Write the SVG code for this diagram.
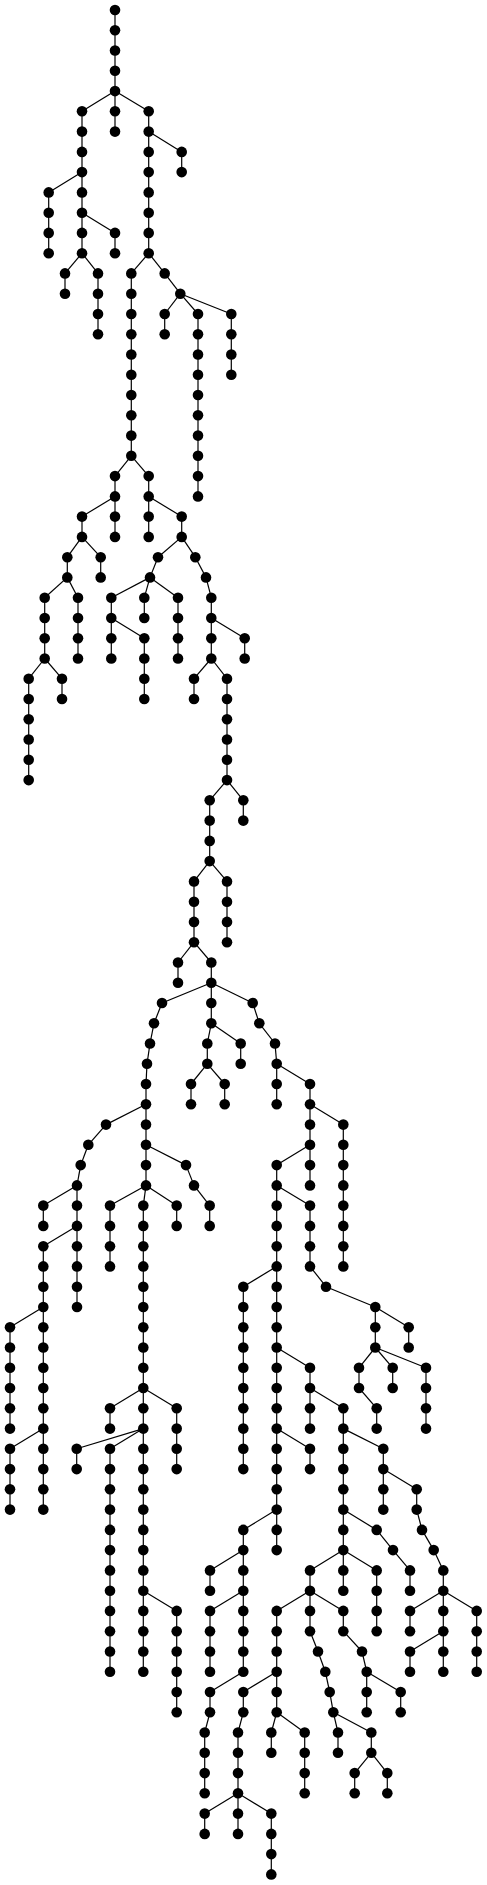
<svg xmlns="http://www.w3.org/2000/svg" width="487" height="1885" viewBox="0 0 487 1885">
<style>
.node circle{fill:#000}
#edges path{stroke:#000;stroke-width:1.2;fill:none}
</style>
<rect width="487" height="1885" fill="#fff"/>
<g id="edges">
<path d="M115 10V30.3"/><path d="M115 30.3V50.5"/><path d="M115 50.5V70.8"/><path d="M115 70.8V91.1"/>
<path d="M115 91.1L82 111.3"/><path d="M115 91.1V111.3"/><path d="M115 91.1L148.7 111.3"/>
<path d="M82 111.3V131.6"/><path d="M115 111.3V131.6"/><path d="M148.7 111.3V131.6"/>
<path d="M82 131.6V151.9"/><path d="M148.7 131.6V151.9"/><path d="M148.7 131.6L181.7 151.9"/>
<path d="M82 151.9V172.1"/><path d="M148.7 151.9V172.1"/><path d="M181.7 151.9V172.1"/>
<path d="M82 172.1L48.7 192.4"/><path d="M82 172.1V192.4"/><path d="M148.7 172.1V192.4"/>
<path d="M48.7 192.4V212.7"/><path d="M82 192.4V212.7"/><path d="M148.7 192.4V212.7"/>
<path d="M48.7 212.7V232.9"/><path d="M82 212.7V232.9"/><path d="M82 212.7L115 232.9"/><path d="M148.7 212.7V232.9"/>
<path d="M48.7 232.9V253.2"/><path d="M82 232.9V253.2"/><path d="M115 232.9V253.2"/><path d="M148.7 232.9V253.2"/>
<path d="M82 253.2L65 273.4"/><path d="M82 253.2L98 273.4"/><path d="M148.7 253.2L131.3 273.4"/><path d="M148.7 253.2L164.7 273.4"/>
<path d="M65 273.4V293.7"/><path d="M98 273.4V293.7"/><path d="M131.3 273.4V293.7"/><path d="M164.7 273.4L180.3 293.7"/>
<path d="M98 293.7V314"/><path d="M131.3 293.7V314"/><path d="M180.3 293.7L164.7 314"/><path d="M180.3 293.7L198 314"/><path d="M180.3 293.7L231.3 314"/>
<path d="M98 314V334.2"/><path d="M131.3 314V334.2"/><path d="M164.7 314V334.2"/><path d="M198 314V334.2"/><path d="M231.3 314V334.2"/>
<path d="M131.3 334.2V354.5"/><path d="M198 334.2V354.5"/><path d="M231.3 334.2V354.5"/>
<path d="M131.3 354.5V374.8"/><path d="M198 354.5V374.8"/><path d="M231.3 354.5V374.8"/>
<path d="M131.3 374.8V455.8"/><path d="M198 374.8V496.4"/>
<path d="M131.3 455.8L115 476.1"/><path d="M131.3 455.8L148.7 476.1"/>
<path d="M115 476.1V496.4"/><path d="M148.7 476.1V496.4"/>
<path d="M115 496.4L82 516.6"/><path d="M115 496.4V516.6"/><path d="M148.7 496.4V516.6"/><path d="M148.7 496.4L181.7 516.6"/>
<path d="M82 516.6V536.9"/><path d="M115 516.6V536.9"/><path d="M148.7 516.6V536.9"/><path d="M181.7 516.6V536.9"/>
<path d="M82 536.9L67.3 557.2"/><path d="M82 536.9L100.7 557.2"/><path d="M181.7 536.9L158 557.2"/><path d="M181.7 536.9L195.3 557.2"/>
<path d="M67.3 557.2V577.4"/><path d="M100.7 557.2V577.4"/><path d="M158 557.2L150 577.4"/><path d="M195.3 557.2L206 577.4"/>
<path d="M67.3 577.4L44.7 597.7"/><path d="M67.3 577.4L78 597.7"/><path d="M150 577.4L111.3 597.7"/><path d="M150 577.4L144.3 597.7"/><path d="M150 577.4L178 597.7"/><path d="M206 577.4L211.3 597.7"/>
<path d="M44.7 597.7V618"/><path d="M78 597.7V618"/><path d="M111.3 597.7V618"/><path d="M144.3 597.7V618"/><path d="M178 597.7V618"/><path d="M211.3 597.7V618"/>
<path d="M44.7 618V638.2"/><path d="M78 618V638.2"/><path d="M111.3 618V638.2"/><path d="M111.3 618L144.3 638.2"/><path d="M178 618V638.2"/><path d="M211.3 618V638.2"/><path d="M211.3 618L244.7 638.2"/>
<path d="M44.7 638.2V658.5"/><path d="M78 638.2V658.5"/><path d="M111.3 638.2V658.5"/><path d="M144.3 638.2V658.5"/><path d="M178 638.2V658.5"/><path d="M211.3 638.2V658.5"/><path d="M244.7 638.2V658.5"/>
<path d="M44.7 658.5L28.7 678.7"/><path d="M44.7 658.5L62 678.7"/><path d="M144.3 658.5V678.7"/><path d="M211.3 658.5L194 678.7"/><path d="M211.3 658.5L227 678.7"/>
<path d="M28.7 678.7V699"/><path d="M62 678.7V699"/><path d="M144.3 678.7V699"/><path d="M194 678.7V699"/><path d="M227 678.7V699"/>
<path d="M28.7 699V780.1"/><path d="M227 699V780.1"/>
<path d="M227 780.1L209.7 800.3"/><path d="M227 780.1L243.3 800.3"/>
<path d="M209.7 800.3V861.1"/><path d="M243.3 800.3V820.6"/>
<path d="M209.7 861.1L194 881.4"/><path d="M209.7 861.1L227 881.4"/>
<path d="M194 881.4V942.2"/><path d="M227 881.4V942.2"/>
<path d="M194 942.2L178 962.5"/><path d="M194 942.2L211.3 962.5"/>
<path d="M178 962.5V982.7"/><path d="M211.3 962.5V982.7"/>
<path d="M211.3 982.7L162 1003"/><path d="M211.3 982.7V1003"/><path d="M211.3 982.7L252.7 1003"/>
<path d="M162 1003L154 1023.3"/><path d="M211.3 1003V1023.3"/><path d="M252.7 1003L259.3 1023.3"/>
<path d="M154 1023.3L150 1043.5"/><path d="M211.3 1023.3L207.3 1043.5"/><path d="M211.3 1023.3L240.7 1043.5"/><path d="M259.3 1023.3L275 1043.5"/>
<path d="M150 1043.5L147 1063.8"/><path d="M207.3 1043.5V1063.8"/><path d="M240.7 1043.5V1063.8"/><path d="M275 1043.5L276.7 1063.8"/>
<path d="M147 1063.8L146 1084"/><path d="M207.3 1063.8L191 1084"/><path d="M207.3 1063.8L224.7 1084"/><path d="M276.7 1063.8V1084"/><path d="M276.7 1063.8L310 1084"/>
<path d="M146 1084V1104.3"/><path d="M191 1084V1104.3"/><path d="M224.7 1084V1104.3"/><path d="M276.7 1084V1104.3"/><path d="M310 1084V1104.3"/>
<path d="M146 1104.3L106 1124.6"/><path d="M146 1104.3V1124.6"/><path d="M310 1104.3V1124.6"/><path d="M310 1104.3L343.3 1124.6"/>
<path d="M106 1124.6L88.3 1144.8"/><path d="M146 1124.6V1144.8"/><path d="M310 1124.6V1144.8"/><path d="M343.3 1124.6V1144.8"/>
<path d="M88.3 1144.8L80.7 1165.1"/><path d="M146 1144.8V1165.1"/><path d="M146 1144.8L186 1165.1"/><path d="M310 1144.8L276.7 1165.1"/><path d="M310 1144.8V1165.1"/><path d="M343.3 1144.8V1165.1"/>
<path d="M80.7 1165.1L77 1185.4"/><path d="M146 1165.1V1185.4"/><path d="M186 1165.1L194 1185.4"/><path d="M276.7 1165.1V1185.4"/><path d="M310 1165.1V1185.4"/><path d="M343.3 1165.1V1185.4"/>
<path d="M77 1185.4L43.3 1205.6"/><path d="M77 1185.4V1205.6"/><path d="M146 1185.4L110 1205.6"/><path d="M146 1185.4L143.3 1205.6"/><path d="M146 1185.4L176.7 1205.6"/><path d="M194 1185.4L209.7 1205.6"/><path d="M276.7 1185.4V1205.6"/><path d="M276.7 1185.4L310 1205.6"/><path d="M343.3 1185.4V1205.6"/>
<path d="M43.3 1205.6V1225.9"/><path d="M77 1205.6V1225.9"/><path d="M110 1205.6V1225.9"/><path d="M143.3 1205.6V1225.9"/><path d="M176.7 1205.6V1225.9"/><path d="M209.7 1205.6V1225.9"/><path d="M276.7 1205.6V1225.9"/><path d="M310 1205.6V1225.9"/><path d="M343.3 1205.6V1225.9"/>
<path d="M77 1225.9L43.3 1246.2"/><path d="M77 1225.9V1246.2"/><path d="M110 1225.9V1246.2"/><path d="M143.3 1225.9V1246.2"/><path d="M276.7 1225.9V1246.2"/><path d="M310 1225.9V1246.2"/><path d="M343.3 1225.9V1246.2"/>
<path d="M43.3 1246.2V1266.4"/><path d="M77 1246.2V1266.4"/><path d="M110 1246.2V1266.4"/><path d="M143.3 1246.2V1266.4"/><path d="M276.7 1246.2V1266.4"/><path d="M310 1246.2V1266.4"/><path d="M343.3 1246.2V1266.4"/>
<path d="M43.3 1266.4V1286.7"/><path d="M77 1266.4V1286.7"/><path d="M143.3 1266.4V1286.7"/><path d="M276.7 1266.4L243.3 1286.7"/><path d="M276.7 1266.4V1286.7"/><path d="M310 1266.4L326 1286.7"/>
<path d="M43.3 1286.7V1307"/><path d="M77 1286.7V1307"/><path d="M143.3 1286.7V1307"/><path d="M243.3 1286.7V1307"/><path d="M276.7 1286.7V1307"/><path d="M326 1286.7L375.3 1307"/>
<path d="M43.3 1307L10 1327.2"/><path d="M43.3 1307V1327.2"/><path d="M143.3 1307V1327.2"/><path d="M243.3 1307V1327.2"/><path d="M276.7 1307V1327.2"/><path d="M375.3 1307V1327.2"/><path d="M375.3 1307L408.7 1327.2"/>
<path d="M10 1327.2V1347.5"/><path d="M43.3 1327.2V1347.5"/><path d="M143.3 1327.2V1347.5"/><path d="M243.3 1327.2V1347.5"/><path d="M276.7 1327.2V1347.5"/><path d="M375.3 1327.2V1347.5"/><path d="M408.7 1327.2V1347.5"/>
<path d="M10 1347.5V1367.8"/><path d="M43.3 1347.5V1367.8"/><path d="M143.3 1347.5V1367.8"/><path d="M243.3 1347.5V1367.8"/><path d="M276.7 1347.5V1367.8"/><path d="M276.7 1347.5L310 1367.8"/><path d="M375.3 1347.5L359 1367.8"/><path d="M375.3 1347.5L392.7 1367.8"/><path d="M375.3 1347.5L426 1367.8"/>
<path d="M10 1367.8V1388"/><path d="M43.3 1367.8V1388"/><path d="M143.3 1367.8V1388"/><path d="M243.3 1367.8V1388"/><path d="M276.7 1367.8V1388"/><path d="M310 1367.8V1388"/><path d="M359 1367.8V1388"/><path d="M392.7 1367.8V1388"/><path d="M426 1367.8V1388"/>
<path d="M10 1388V1408.3"/><path d="M43.3 1388V1408.3"/><path d="M143.3 1388L110 1408.3"/><path d="M143.3 1388V1408.3"/><path d="M143.3 1388L176.7 1408.3"/><path d="M243.3 1388V1408.3"/><path d="M276.7 1388V1408.3"/><path d="M310 1388V1408.3"/><path d="M310 1388L343.3 1408.3"/><path d="M359 1388L376.7 1408.3"/><path d="M426 1388V1408.3"/>
<path d="M10 1408.3V1428.6"/><path d="M43.3 1408.3V1428.6"/><path d="M110 1408.3V1428.6"/><path d="M143.3 1408.3V1428.6"/><path d="M176.7 1408.3V1428.6"/><path d="M243.3 1408.3V1428.6"/><path d="M276.7 1408.3V1428.6"/><path d="M310 1408.3V1428.6"/><path d="M343.3 1408.3V1428.6"/><path d="M376.7 1408.3V1428.6"/><path d="M426 1408.3V1428.6"/>
<path d="M43.3 1428.6L10 1448.8"/><path d="M43.3 1428.6V1448.8"/><path d="M143.3 1428.6L76.7 1448.8"/><path d="M143.3 1428.6L110 1448.8"/><path d="M143.3 1428.6V1448.8"/><path d="M176.7 1428.6V1448.8"/><path d="M243.3 1428.6V1448.8"/><path d="M276.7 1428.6V1448.8"/><path d="M276.7 1428.6L310 1448.8"/><path d="M343.3 1428.6V1448.8"/><path d="M343.3 1428.6L383.3 1448.8"/>
<path d="M10 1448.8V1469.1"/><path d="M43.3 1448.8V1469.1"/><path d="M76.7 1448.8V1469.1"/><path d="M110 1448.8V1469.1"/><path d="M143.3 1448.8V1469.1"/><path d="M176.7 1448.8V1469.1"/><path d="M243.3 1448.8V1469.1"/><path d="M276.7 1448.8V1469.1"/><path d="M310 1448.8V1469.1"/><path d="M343.3 1448.8V1469.1"/><path d="M383.3 1448.8V1469.1"/>
<path d="M10 1469.1V1509.6"/><path d="M43.3 1469.1V1509.6"/><path d="M110 1469.1V1509.6"/><path d="M143.3 1469.1V1509.6"/><path d="M276.7 1469.1V1509.6"/><path d="M343.3 1469.1V1509.6"/><path d="M383.3 1469.1V1509.6"/><path d="M383.3 1469.1L416.7 1489.3"/><path d="M416.7 1489.3V1509.6"/>
<path d="M110 1509.6V1529.9"/><path d="M143.3 1509.6V1529.9"/><path d="M276.7 1509.6L243.3 1529.9"/><path d="M276.7 1509.6V1529.9"/><path d="M343.3 1509.6V1529.9"/><path d="M343.3 1509.6L376.7 1529.9"/><path d="M416.7 1509.6L422 1529.9"/>
<path d="M110 1529.9V1550.1"/><path d="M143.3 1529.9V1550.1"/><path d="M243.3 1529.9V1550.1"/><path d="M276.7 1529.9V1550.1"/><path d="M343.3 1529.9V1550.1"/><path d="M376.7 1529.9L393 1550.1"/><path d="M422 1529.9L433.7 1550.1"/>
<path d="M110 1550.1V1570.4"/><path d="M143.3 1550.1V1570.4"/><path d="M243.3 1550.1L210 1570.4"/><path d="M243.3 1550.1V1570.4"/><path d="M343.3 1550.1L310 1570.4"/><path d="M343.3 1550.1V1570.4"/><path d="M343.3 1550.1L376.7 1570.4"/><path d="M393 1550.1L410 1570.4"/><path d="M433.7 1550.1L443.3 1570.4"/>
<path d="M110 1570.4V1590.7"/><path d="M143.3 1570.4V1590.7"/><path d="M210 1570.4V1590.7"/><path d="M243.3 1570.4V1590.7"/><path d="M310 1570.4V1590.7"/><path d="M343.3 1570.4V1590.7"/><path d="M376.7 1570.4V1590.7"/><path d="M410 1570.4V1590.7"/><path d="M443.3 1570.4V1590.7"/>
<path d="M110 1590.7V1610.9"/><path d="M143.3 1590.7V1610.9"/><path d="M143.3 1590.7L176.7 1610.9"/><path d="M243.3 1590.7L210 1610.9"/><path d="M243.3 1590.7V1610.9"/><path d="M310 1590.7L276.7 1610.9"/><path d="M310 1590.7V1610.9"/><path d="M310 1590.7L343.3 1610.9"/><path d="M376.7 1590.7V1610.9"/><path d="M443.3 1590.7L410 1610.9"/><path d="M443.3 1590.7V1610.9"/><path d="M443.3 1590.7L476.7 1610.9"/>
<path d="M110 1610.9V1631.2"/><path d="M143.3 1610.9V1631.2"/><path d="M176.7 1610.9V1631.2"/><path d="M210 1610.9V1631.2"/><path d="M243.3 1610.9V1631.2"/><path d="M276.7 1610.9V1631.2"/><path d="M310 1610.9V1631.2"/><path d="M343.3 1610.9V1631.2"/><path d="M376.7 1610.9V1631.2"/><path d="M410 1610.9V1631.2"/><path d="M443.3 1610.9V1631.2"/><path d="M476.7 1610.9V1631.2"/>
<path d="M110 1631.2V1671.7"/><path d="M143.3 1631.2V1671.7"/><path d="M176.7 1631.2V1712.3"/><path d="M210 1631.2V1671.7"/><path d="M243.3 1631.2V1671.7"/><path d="M276.7 1631.2V1671.7"/><path d="M310 1631.2L318 1651.5"/><path d="M343.3 1631.2L362 1651.5"/><path d="M443.3 1631.2L410 1651.5"/><path d="M443.3 1631.2V1671.7"/><path d="M476.7 1631.2V1671.7"/><path d="M410 1651.5V1671.7"/>
<path d="M318 1651.5L325.3 1671.7"/><path d="M362 1651.5L366.7 1671.7"/>
<path d="M243.3 1671.7L210 1692"/><path d="M276.7 1671.7L243.3 1692"/><path d="M276.7 1671.7V1692"/><path d="M325.3 1671.7L329.7 1692"/><path d="M366.7 1671.7V1692"/><path d="M366.7 1671.7L400.7 1692"/>
<path d="M210 1692V1712.3"/><path d="M243.3 1692V1712.3"/><path d="M276.7 1692V1712.3"/><path d="M329.7 1692L333.3 1712.3"/><path d="M366.7 1692V1712.3"/><path d="M400.7 1692V1712.3"/>
<path d="M210 1712.3L204.7 1732.5"/><path d="M243.3 1712.3L238 1732.5"/><path d="M276.7 1712.3L271.3 1732.5"/><path d="M276.7 1712.3L304.7 1732.5"/><path d="M333.3 1712.3L338 1732.5"/><path d="M333.3 1712.3L371.3 1732.5"/>
<path d="M204.7 1732.5V1793.3"/><path d="M238 1732.5V1793.3"/><path d="M271.3 1732.5V1752.8"/><path d="M304.7 1732.5V1793.3"/><path d="M338 1732.5V1752.8"/><path d="M371.3 1732.5V1752.8"/>
<path d="M371.3 1752.8L354.7 1773.1"/><path d="M371.3 1752.8L387.3 1773.1"/><path d="M354.7 1773.1V1793.3"/><path d="M387.3 1773.1V1793.3"/>
<path d="M238 1793.3L204.7 1813.6"/><path d="M238 1793.3V1813.6"/><path d="M238 1793.3L271.3 1813.6"/>
<path d="M204.7 1813.6V1833.9"/><path d="M238 1813.6V1833.9"/><path d="M271.3 1813.6V1874.4"/>
</g>
<g class="node" id="n0-0"><circle cx="115" cy="10" r="5.3"/></g>
<g class="node" id="n1-0"><circle cx="115" cy="30.3" r="5.3"/></g>
<g class="node" id="n2-0"><circle cx="115" cy="50.5" r="5.3"/></g>
<g class="node" id="n3-0"><circle cx="115" cy="70.8" r="5.3"/></g>
<g class="node" id="n4-0"><circle cx="115" cy="91.1" r="5.3"/></g>
<g class="node" id="n5-0"><circle cx="82" cy="111.3" r="5.3"/></g>
<g class="node" id="n5-1"><circle cx="115" cy="111.3" r="5.3"/></g>
<g class="node" id="n5-2"><circle cx="148.7" cy="111.3" r="5.3"/></g>
<g class="node" id="n6-0"><circle cx="82" cy="131.6" r="5.3"/></g>
<g class="node" id="n6-1"><circle cx="115" cy="131.6" r="5.3"/></g>
<g class="node" id="n6-2"><circle cx="148.7" cy="131.6" r="5.3"/></g>
<g class="node" id="n7-0"><circle cx="82" cy="151.9" r="5.3"/></g>
<g class="node" id="n7-1"><circle cx="148.7" cy="151.9" r="5.3"/></g>
<g class="node" id="n7-2"><circle cx="181.7" cy="151.9" r="5.3"/></g>
<g class="node" id="n8-0"><circle cx="82" cy="172.1" r="5.3"/></g>
<g class="node" id="n8-1"><circle cx="148.7" cy="172.1" r="5.3"/></g>
<g class="node" id="n8-2"><circle cx="181.7" cy="172.1" r="5.3"/></g>
<g class="node" id="n9-0"><circle cx="48.7" cy="192.4" r="5.3"/></g>
<g class="node" id="n9-1"><circle cx="82" cy="192.4" r="5.3"/></g>
<g class="node" id="n9-2"><circle cx="148.7" cy="192.4" r="5.3"/></g>
<g class="node" id="n10-0"><circle cx="48.7" cy="212.7" r="5.3"/></g>
<g class="node" id="n10-1"><circle cx="82" cy="212.7" r="5.3"/></g>
<g class="node" id="n10-2"><circle cx="148.7" cy="212.7" r="5.3"/></g>
<g class="node" id="n11-0"><circle cx="48.7" cy="232.9" r="5.3"/></g>
<g class="node" id="n11-1"><circle cx="82" cy="232.9" r="5.3"/></g>
<g class="node" id="n11-2"><circle cx="115" cy="232.9" r="5.3"/></g>
<g class="node" id="n11-3"><circle cx="148.7" cy="232.9" r="5.3"/></g>
<g class="node" id="n12-0"><circle cx="48.7" cy="253.2" r="5.3"/></g>
<g class="node" id="n12-1"><circle cx="82" cy="253.2" r="5.3"/></g>
<g class="node" id="n12-2"><circle cx="115" cy="253.2" r="5.3"/></g>
<g class="node" id="n12-3"><circle cx="148.7" cy="253.2" r="5.3"/></g>
<g class="node" id="n13-0"><circle cx="65" cy="273.4" r="5.3"/></g>
<g class="node" id="n13-1"><circle cx="98" cy="273.4" r="5.3"/></g>
<g class="node" id="n13-2"><circle cx="131.3" cy="273.4" r="5.3"/></g>
<g class="node" id="n13-3"><circle cx="164.7" cy="273.4" r="5.3"/></g>
<g class="node" id="n14-0"><circle cx="65" cy="293.7" r="5.3"/></g>
<g class="node" id="n14-1"><circle cx="98" cy="293.7" r="5.3"/></g>
<g class="node" id="n14-2"><circle cx="131.3" cy="293.7" r="5.3"/></g>
<g class="node" id="n14-3"><circle cx="180.3" cy="293.7" r="5.3"/></g>
<g class="node" id="n15-0"><circle cx="98" cy="314" r="5.3"/></g>
<g class="node" id="n15-1"><circle cx="131.3" cy="314" r="5.3"/></g>
<g class="node" id="n15-2"><circle cx="164.7" cy="314" r="5.3"/></g>
<g class="node" id="n15-3"><circle cx="198" cy="314" r="5.3"/></g>
<g class="node" id="n15-4"><circle cx="231.3" cy="314" r="5.3"/></g>
<g class="node" id="n16-0"><circle cx="98" cy="334.2" r="5.3"/></g>
<g class="node" id="n16-1"><circle cx="131.3" cy="334.2" r="5.3"/></g>
<g class="node" id="n16-2"><circle cx="164.7" cy="334.2" r="5.3"/></g>
<g class="node" id="n16-3"><circle cx="198" cy="334.2" r="5.3"/></g>
<g class="node" id="n16-4"><circle cx="231.3" cy="334.2" r="5.3"/></g>
<g class="node" id="n17-0"><circle cx="131.3" cy="354.5" r="5.3"/></g>
<g class="node" id="n17-1"><circle cx="198" cy="354.5" r="5.3"/></g>
<g class="node" id="n17-2"><circle cx="231.3" cy="354.5" r="5.3"/></g>
<g class="node" id="n18-0"><circle cx="131.3" cy="374.8" r="5.3"/></g>
<g class="node" id="n18-1"><circle cx="198" cy="374.8" r="5.3"/></g>
<g class="node" id="n18-2"><circle cx="231.3" cy="374.8" r="5.3"/></g>
<g class="node" id="n19-0"><circle cx="131.3" cy="395" r="5.3"/></g>
<g class="node" id="n19-1"><circle cx="198" cy="395" r="5.3"/></g>
<g class="node" id="n20-0"><circle cx="131.3" cy="415.3" r="5.3"/></g>
<g class="node" id="n20-1"><circle cx="198" cy="415.3" r="5.3"/></g>
<g class="node" id="n21-0"><circle cx="131.3" cy="435.6" r="5.3"/></g>
<g class="node" id="n21-1"><circle cx="198" cy="435.6" r="5.3"/></g>
<g class="node" id="n22-0"><circle cx="131.3" cy="455.8" r="5.3"/></g>
<g class="node" id="n22-1"><circle cx="198" cy="455.8" r="5.3"/></g>
<g class="node" id="n23-0"><circle cx="115" cy="476.1" r="5.3"/></g>
<g class="node" id="n23-1"><circle cx="148.7" cy="476.1" r="5.3"/></g>
<g class="node" id="n23-2"><circle cx="198" cy="476.1" r="5.3"/></g>
<g class="node" id="n24-0"><circle cx="115" cy="496.4" r="5.3"/></g>
<g class="node" id="n24-1"><circle cx="148.7" cy="496.4" r="5.3"/></g>
<g class="node" id="n24-2"><circle cx="198" cy="496.4" r="5.3"/></g>
<g class="node" id="n25-0"><circle cx="82" cy="516.6" r="5.3"/></g>
<g class="node" id="n25-1"><circle cx="115" cy="516.6" r="5.3"/></g>
<g class="node" id="n25-2"><circle cx="148.7" cy="516.6" r="5.3"/></g>
<g class="node" id="n25-3"><circle cx="181.7" cy="516.6" r="5.3"/></g>
<g class="node" id="n26-0"><circle cx="82" cy="536.9" r="5.3"/></g>
<g class="node" id="n26-1"><circle cx="115" cy="536.9" r="5.3"/></g>
<g class="node" id="n26-2"><circle cx="148.7" cy="536.9" r="5.3"/></g>
<g class="node" id="n26-3"><circle cx="181.7" cy="536.9" r="5.3"/></g>
<g class="node" id="n27-0"><circle cx="67.3" cy="557.2" r="5.3"/></g>
<g class="node" id="n27-1"><circle cx="100.7" cy="557.2" r="5.3"/></g>
<g class="node" id="n27-2"><circle cx="158" cy="557.2" r="5.3"/></g>
<g class="node" id="n27-3"><circle cx="195.3" cy="557.2" r="5.3"/></g>
<g class="node" id="n28-0"><circle cx="67.3" cy="577.4" r="5.3"/></g>
<g class="node" id="n28-1"><circle cx="100.7" cy="577.4" r="5.3"/></g>
<g class="node" id="n28-2"><circle cx="150" cy="577.4" r="5.3"/></g>
<g class="node" id="n28-3"><circle cx="206" cy="577.4" r="5.3"/></g>
<g class="node" id="n29-0"><circle cx="44.7" cy="597.7" r="5.3"/></g>
<g class="node" id="n29-1"><circle cx="78" cy="597.7" r="5.3"/></g>
<g class="node" id="n29-2"><circle cx="111.3" cy="597.7" r="5.3"/></g>
<g class="node" id="n29-3"><circle cx="144.3" cy="597.7" r="5.3"/></g>
<g class="node" id="n29-4"><circle cx="178" cy="597.7" r="5.3"/></g>
<g class="node" id="n29-5"><circle cx="211.3" cy="597.7" r="5.3"/></g>
<g class="node" id="n30-0"><circle cx="44.7" cy="618" r="5.3"/></g>
<g class="node" id="n30-1"><circle cx="78" cy="618" r="5.3"/></g>
<g class="node" id="n30-2"><circle cx="111.3" cy="618" r="5.3"/></g>
<g class="node" id="n30-3"><circle cx="144.3" cy="618" r="5.3"/></g>
<g class="node" id="n30-4"><circle cx="178" cy="618" r="5.3"/></g>
<g class="node" id="n30-5"><circle cx="211.3" cy="618" r="5.3"/></g>
<g class="node" id="n31-0"><circle cx="44.7" cy="638.2" r="5.3"/></g>
<g class="node" id="n31-1"><circle cx="78" cy="638.2" r="5.3"/></g>
<g class="node" id="n31-2"><circle cx="111.3" cy="638.2" r="5.3"/></g>
<g class="node" id="n31-3"><circle cx="144.3" cy="638.2" r="5.3"/></g>
<g class="node" id="n31-4"><circle cx="178" cy="638.2" r="5.3"/></g>
<g class="node" id="n31-5"><circle cx="211.3" cy="638.2" r="5.3"/></g>
<g class="node" id="n31-6"><circle cx="244.7" cy="638.2" r="5.3"/></g>
<g class="node" id="n32-0"><circle cx="44.7" cy="658.5" r="5.3"/></g>
<g class="node" id="n32-1"><circle cx="78" cy="658.5" r="5.3"/></g>
<g class="node" id="n32-2"><circle cx="111.3" cy="658.5" r="5.3"/></g>
<g class="node" id="n32-3"><circle cx="144.3" cy="658.5" r="5.3"/></g>
<g class="node" id="n32-4"><circle cx="178" cy="658.5" r="5.3"/></g>
<g class="node" id="n32-5"><circle cx="211.3" cy="658.5" r="5.3"/></g>
<g class="node" id="n32-6"><circle cx="244.7" cy="658.5" r="5.3"/></g>
<g class="node" id="n33-0"><circle cx="28.7" cy="678.7" r="5.3"/></g>
<g class="node" id="n33-1"><circle cx="62" cy="678.7" r="5.3"/></g>
<g class="node" id="n33-2"><circle cx="144.3" cy="678.7" r="5.3"/></g>
<g class="node" id="n33-3"><circle cx="194" cy="678.7" r="5.3"/></g>
<g class="node" id="n33-4"><circle cx="227" cy="678.7" r="5.3"/></g>
<g class="node" id="n34-0"><circle cx="28.7" cy="699" r="5.3"/></g>
<g class="node" id="n34-1"><circle cx="62" cy="699" r="5.3"/></g>
<g class="node" id="n34-2"><circle cx="144.3" cy="699" r="5.3"/></g>
<g class="node" id="n34-3"><circle cx="194" cy="699" r="5.3"/></g>
<g class="node" id="n34-4"><circle cx="227" cy="699" r="5.3"/></g>
<g class="node" id="n35-0"><circle cx="28.7" cy="719.3" r="5.3"/></g>
<g class="node" id="n35-1"><circle cx="227" cy="719.3" r="5.3"/></g>
<g class="node" id="n36-0"><circle cx="28.7" cy="739.5" r="5.3"/></g>
<g class="node" id="n36-1"><circle cx="227" cy="739.5" r="5.3"/></g>
<g class="node" id="n37-0"><circle cx="28.7" cy="759.8" r="5.3"/></g>
<g class="node" id="n37-1"><circle cx="227" cy="759.8" r="5.3"/></g>
<g class="node" id="n38-0"><circle cx="28.7" cy="780.1" r="5.3"/></g>
<g class="node" id="n38-1"><circle cx="227" cy="780.1" r="5.3"/></g>
<g class="node" id="n39-0"><circle cx="209.7" cy="800.3" r="5.3"/></g>
<g class="node" id="n39-1"><circle cx="243.3" cy="800.3" r="5.3"/></g>
<g class="node" id="n40-0"><circle cx="209.7" cy="820.6" r="5.3"/></g>
<g class="node" id="n40-1"><circle cx="243.3" cy="820.6" r="5.3"/></g>
<g class="node" id="n41-0"><circle cx="209.7" cy="840.9" r="5.3"/></g>
<g class="node" id="n42-0"><circle cx="209.7" cy="861.1" r="5.3"/></g>
<g class="node" id="n43-0"><circle cx="194" cy="881.4" r="5.3"/></g>
<g class="node" id="n43-1"><circle cx="227" cy="881.4" r="5.3"/></g>
<g class="node" id="n44-0"><circle cx="194" cy="901.7" r="5.3"/></g>
<g class="node" id="n44-1"><circle cx="227" cy="901.7" r="5.3"/></g>
<g class="node" id="n45-0"><circle cx="194" cy="921.9" r="5.3"/></g>
<g class="node" id="n45-1"><circle cx="227" cy="921.9" r="5.3"/></g>
<g class="node" id="n46-0"><circle cx="194" cy="942.2" r="5.3"/></g>
<g class="node" id="n46-1"><circle cx="227" cy="942.2" r="5.3"/></g>
<g class="node" id="n47-0"><circle cx="178" cy="962.5" r="5.3"/></g>
<g class="node" id="n47-1"><circle cx="211.3" cy="962.5" r="5.3"/></g>
<g class="node" id="n48-0"><circle cx="178" cy="982.7" r="5.3"/></g>
<g class="node" id="n48-1"><circle cx="211.3" cy="982.7" r="5.3"/></g>
<g class="node" id="n49-0"><circle cx="162" cy="1003" r="5.3"/></g>
<g class="node" id="n49-1"><circle cx="211.3" cy="1003" r="5.3"/></g>
<g class="node" id="n49-2"><circle cx="252.7" cy="1003" r="5.3"/></g>
<g class="node" id="n50-0"><circle cx="154" cy="1023.3" r="5.3"/></g>
<g class="node" id="n50-1"><circle cx="211.3" cy="1023.3" r="5.3"/></g>
<g class="node" id="n50-2"><circle cx="259.3" cy="1023.3" r="5.3"/></g>
<g class="node" id="n51-0"><circle cx="150" cy="1043.5" r="5.3"/></g>
<g class="node" id="n51-1"><circle cx="207.3" cy="1043.5" r="5.3"/></g>
<g class="node" id="n51-2"><circle cx="240.7" cy="1043.5" r="5.3"/></g>
<g class="node" id="n51-3"><circle cx="275" cy="1043.5" r="5.3"/></g>
<g class="node" id="n52-0"><circle cx="147" cy="1063.8" r="5.3"/></g>
<g class="node" id="n52-1"><circle cx="207.3" cy="1063.8" r="5.3"/></g>
<g class="node" id="n52-2"><circle cx="240.7" cy="1063.8" r="5.3"/></g>
<g class="node" id="n52-3"><circle cx="276.7" cy="1063.8" r="5.3"/></g>
<g class="node" id="n53-0"><circle cx="146" cy="1084" r="5.3"/></g>
<g class="node" id="n53-1"><circle cx="191" cy="1084" r="5.3"/></g>
<g class="node" id="n53-2"><circle cx="224.7" cy="1084" r="5.3"/></g>
<g class="node" id="n53-3"><circle cx="276.7" cy="1084" r="5.3"/></g>
<g class="node" id="n53-4"><circle cx="310" cy="1084" r="5.3"/></g>
<g class="node" id="n54-0"><circle cx="146" cy="1104.3" r="5.3"/></g>
<g class="node" id="n54-1"><circle cx="191" cy="1104.3" r="5.3"/></g>
<g class="node" id="n54-2"><circle cx="224.7" cy="1104.3" r="5.3"/></g>
<g class="node" id="n54-3"><circle cx="276.7" cy="1104.3" r="5.3"/></g>
<g class="node" id="n54-4"><circle cx="310" cy="1104.3" r="5.3"/></g>
<g class="node" id="n55-0"><circle cx="106" cy="1124.6" r="5.3"/></g>
<g class="node" id="n55-1"><circle cx="146" cy="1124.6" r="5.3"/></g>
<g class="node" id="n55-2"><circle cx="310" cy="1124.6" r="5.3"/></g>
<g class="node" id="n55-3"><circle cx="343.3" cy="1124.6" r="5.3"/></g>
<g class="node" id="n56-0"><circle cx="88.3" cy="1144.8" r="5.3"/></g>
<g class="node" id="n56-1"><circle cx="146" cy="1144.8" r="5.3"/></g>
<g class="node" id="n56-2"><circle cx="310" cy="1144.8" r="5.3"/></g>
<g class="node" id="n56-3"><circle cx="343.3" cy="1144.8" r="5.3"/></g>
<g class="node" id="n57-0"><circle cx="80.7" cy="1165.1" r="5.3"/></g>
<g class="node" id="n57-1"><circle cx="146" cy="1165.1" r="5.3"/></g>
<g class="node" id="n57-2"><circle cx="186" cy="1165.1" r="5.3"/></g>
<g class="node" id="n57-3"><circle cx="276.7" cy="1165.1" r="5.3"/></g>
<g class="node" id="n57-4"><circle cx="310" cy="1165.1" r="5.3"/></g>
<g class="node" id="n57-5"><circle cx="343.3" cy="1165.1" r="5.3"/></g>
<g class="node" id="n58-0"><circle cx="77" cy="1185.4" r="5.3"/></g>
<g class="node" id="n58-1"><circle cx="146" cy="1185.4" r="5.3"/></g>
<g class="node" id="n58-2"><circle cx="194" cy="1185.4" r="5.3"/></g>
<g class="node" id="n58-3"><circle cx="276.7" cy="1185.4" r="5.3"/></g>
<g class="node" id="n58-4"><circle cx="310" cy="1185.4" r="5.3"/></g>
<g class="node" id="n58-5"><circle cx="343.3" cy="1185.4" r="5.3"/></g>
<g class="node" id="n59-0"><circle cx="43.3" cy="1205.6" r="5.3"/></g>
<g class="node" id="n59-1"><circle cx="77" cy="1205.6" r="5.3"/></g>
<g class="node" id="n59-2"><circle cx="110" cy="1205.6" r="5.3"/></g>
<g class="node" id="n59-3"><circle cx="143.3" cy="1205.6" r="5.3"/></g>
<g class="node" id="n59-4"><circle cx="176.7" cy="1205.6" r="5.3"/></g>
<g class="node" id="n59-5"><circle cx="209.7" cy="1205.6" r="5.3"/></g>
<g class="node" id="n59-6"><circle cx="276.7" cy="1205.6" r="5.3"/></g>
<g class="node" id="n59-7"><circle cx="310" cy="1205.6" r="5.3"/></g>
<g class="node" id="n59-8"><circle cx="343.3" cy="1205.6" r="5.3"/></g>
<g class="node" id="n60-0"><circle cx="43.3" cy="1225.9" r="5.3"/></g>
<g class="node" id="n60-1"><circle cx="77" cy="1225.9" r="5.3"/></g>
<g class="node" id="n60-2"><circle cx="110" cy="1225.9" r="5.3"/></g>
<g class="node" id="n60-3"><circle cx="143.3" cy="1225.9" r="5.3"/></g>
<g class="node" id="n60-4"><circle cx="176.7" cy="1225.9" r="5.3"/></g>
<g class="node" id="n60-5"><circle cx="209.7" cy="1225.9" r="5.3"/></g>
<g class="node" id="n60-6"><circle cx="276.7" cy="1225.9" r="5.3"/></g>
<g class="node" id="n60-7"><circle cx="310" cy="1225.9" r="5.3"/></g>
<g class="node" id="n60-8"><circle cx="343.3" cy="1225.9" r="5.3"/></g>
<g class="node" id="n61-0"><circle cx="43.3" cy="1246.2" r="5.3"/></g>
<g class="node" id="n61-1"><circle cx="77" cy="1246.2" r="5.3"/></g>
<g class="node" id="n61-2"><circle cx="110" cy="1246.2" r="5.3"/></g>
<g class="node" id="n61-3"><circle cx="143.3" cy="1246.2" r="5.3"/></g>
<g class="node" id="n61-4"><circle cx="276.7" cy="1246.2" r="5.3"/></g>
<g class="node" id="n61-5"><circle cx="310" cy="1246.2" r="5.3"/></g>
<g class="node" id="n61-6"><circle cx="343.3" cy="1246.2" r="5.3"/></g>
<g class="node" id="n62-0"><circle cx="43.3" cy="1266.4" r="5.3"/></g>
<g class="node" id="n62-1"><circle cx="77" cy="1266.4" r="5.3"/></g>
<g class="node" id="n62-2"><circle cx="110" cy="1266.4" r="5.3"/></g>
<g class="node" id="n62-3"><circle cx="143.3" cy="1266.4" r="5.3"/></g>
<g class="node" id="n62-4"><circle cx="276.7" cy="1266.4" r="5.3"/></g>
<g class="node" id="n62-5"><circle cx="310" cy="1266.4" r="5.3"/></g>
<g class="node" id="n62-6"><circle cx="343.3" cy="1266.4" r="5.3"/></g>
<g class="node" id="n63-0"><circle cx="43.3" cy="1286.7" r="5.3"/></g>
<g class="node" id="n63-1"><circle cx="77" cy="1286.7" r="5.3"/></g>
<g class="node" id="n63-2"><circle cx="143.3" cy="1286.7" r="5.3"/></g>
<g class="node" id="n63-3"><circle cx="243.3" cy="1286.7" r="5.3"/></g>
<g class="node" id="n63-4"><circle cx="276.7" cy="1286.7" r="5.3"/></g>
<g class="node" id="n63-5"><circle cx="326" cy="1286.7" r="5.3"/></g>
<g class="node" id="n64-0"><circle cx="43.3" cy="1307" r="5.3"/></g>
<g class="node" id="n64-1"><circle cx="77" cy="1307" r="5.3"/></g>
<g class="node" id="n64-2"><circle cx="143.3" cy="1307" r="5.3"/></g>
<g class="node" id="n64-3"><circle cx="243.3" cy="1307" r="5.3"/></g>
<g class="node" id="n64-4"><circle cx="276.7" cy="1307" r="5.3"/></g>
<g class="node" id="n64-5"><circle cx="375.3" cy="1307" r="5.3"/></g>
<g class="node" id="n65-0"><circle cx="10" cy="1327.2" r="5.3"/></g>
<g class="node" id="n65-1"><circle cx="43.3" cy="1327.2" r="5.3"/></g>
<g class="node" id="n65-2"><circle cx="143.3" cy="1327.2" r="5.3"/></g>
<g class="node" id="n65-3"><circle cx="243.3" cy="1327.2" r="5.3"/></g>
<g class="node" id="n65-4"><circle cx="276.7" cy="1327.2" r="5.3"/></g>
<g class="node" id="n65-5"><circle cx="375.3" cy="1327.2" r="5.3"/></g>
<g class="node" id="n65-6"><circle cx="408.7" cy="1327.2" r="5.3"/></g>
<g class="node" id="n66-0"><circle cx="10" cy="1347.5" r="5.3"/></g>
<g class="node" id="n66-1"><circle cx="43.3" cy="1347.5" r="5.3"/></g>
<g class="node" id="n66-2"><circle cx="143.3" cy="1347.5" r="5.3"/></g>
<g class="node" id="n66-3"><circle cx="243.3" cy="1347.5" r="5.3"/></g>
<g class="node" id="n66-4"><circle cx="276.7" cy="1347.5" r="5.3"/></g>
<g class="node" id="n66-5"><circle cx="375.3" cy="1347.5" r="5.3"/></g>
<g class="node" id="n66-6"><circle cx="408.7" cy="1347.5" r="5.3"/></g>
<g class="node" id="n67-0"><circle cx="10" cy="1367.8" r="5.3"/></g>
<g class="node" id="n67-1"><circle cx="43.3" cy="1367.8" r="5.3"/></g>
<g class="node" id="n67-2"><circle cx="143.3" cy="1367.8" r="5.3"/></g>
<g class="node" id="n67-3"><circle cx="243.3" cy="1367.8" r="5.3"/></g>
<g class="node" id="n67-4"><circle cx="276.7" cy="1367.8" r="5.3"/></g>
<g class="node" id="n67-5"><circle cx="310" cy="1367.8" r="5.3"/></g>
<g class="node" id="n67-6"><circle cx="359" cy="1367.8" r="5.3"/></g>
<g class="node" id="n67-7"><circle cx="392.7" cy="1367.8" r="5.3"/></g>
<g class="node" id="n67-8"><circle cx="426" cy="1367.8" r="5.3"/></g>
<g class="node" id="n68-0"><circle cx="10" cy="1388" r="5.3"/></g>
<g class="node" id="n68-1"><circle cx="43.3" cy="1388" r="5.3"/></g>
<g class="node" id="n68-2"><circle cx="143.3" cy="1388" r="5.3"/></g>
<g class="node" id="n68-3"><circle cx="243.3" cy="1388" r="5.3"/></g>
<g class="node" id="n68-4"><circle cx="276.7" cy="1388" r="5.3"/></g>
<g class="node" id="n68-5"><circle cx="310" cy="1388" r="5.3"/></g>
<g class="node" id="n68-6"><circle cx="359" cy="1388" r="5.3"/></g>
<g class="node" id="n68-7"><circle cx="392.7" cy="1388" r="5.3"/></g>
<g class="node" id="n68-8"><circle cx="426" cy="1388" r="5.3"/></g>
<g class="node" id="n69-0"><circle cx="10" cy="1408.3" r="5.3"/></g>
<g class="node" id="n69-1"><circle cx="43.3" cy="1408.3" r="5.3"/></g>
<g class="node" id="n69-2"><circle cx="110" cy="1408.3" r="5.3"/></g>
<g class="node" id="n69-3"><circle cx="143.3" cy="1408.3" r="5.3"/></g>
<g class="node" id="n69-4"><circle cx="176.7" cy="1408.3" r="5.3"/></g>
<g class="node" id="n69-5"><circle cx="243.3" cy="1408.3" r="5.3"/></g>
<g class="node" id="n69-6"><circle cx="276.7" cy="1408.3" r="5.3"/></g>
<g class="node" id="n69-7"><circle cx="310" cy="1408.3" r="5.3"/></g>
<g class="node" id="n69-8"><circle cx="343.3" cy="1408.3" r="5.3"/></g>
<g class="node" id="n69-9"><circle cx="376.7" cy="1408.3" r="5.3"/></g>
<g class="node" id="n69-10"><circle cx="426" cy="1408.3" r="5.3"/></g>
<g class="node" id="n70-0"><circle cx="10" cy="1428.6" r="5.3"/></g>
<g class="node" id="n70-1"><circle cx="43.3" cy="1428.6" r="5.3"/></g>
<g class="node" id="n70-2"><circle cx="110" cy="1428.6" r="5.3"/></g>
<g class="node" id="n70-3"><circle cx="143.3" cy="1428.6" r="5.3"/></g>
<g class="node" id="n70-4"><circle cx="176.7" cy="1428.6" r="5.3"/></g>
<g class="node" id="n70-5"><circle cx="243.3" cy="1428.6" r="5.3"/></g>
<g class="node" id="n70-6"><circle cx="276.7" cy="1428.6" r="5.3"/></g>
<g class="node" id="n70-7"><circle cx="310" cy="1428.6" r="5.3"/></g>
<g class="node" id="n70-8"><circle cx="343.3" cy="1428.6" r="5.3"/></g>
<g class="node" id="n70-9"><circle cx="376.7" cy="1428.6" r="5.3"/></g>
<g class="node" id="n70-10"><circle cx="426" cy="1428.6" r="5.3"/></g>
<g class="node" id="n71-0"><circle cx="10" cy="1448.8" r="5.3"/></g>
<g class="node" id="n71-1"><circle cx="43.3" cy="1448.8" r="5.3"/></g>
<g class="node" id="n71-2"><circle cx="76.7" cy="1448.8" r="5.3"/></g>
<g class="node" id="n71-3"><circle cx="110" cy="1448.8" r="5.3"/></g>
<g class="node" id="n71-4"><circle cx="143.3" cy="1448.8" r="5.3"/></g>
<g class="node" id="n71-5"><circle cx="176.7" cy="1448.8" r="5.3"/></g>
<g class="node" id="n71-6"><circle cx="243.3" cy="1448.8" r="5.3"/></g>
<g class="node" id="n71-7"><circle cx="276.7" cy="1448.8" r="5.3"/></g>
<g class="node" id="n71-8"><circle cx="310" cy="1448.8" r="5.3"/></g>
<g class="node" id="n71-9"><circle cx="343.3" cy="1448.8" r="5.3"/></g>
<g class="node" id="n71-10"><circle cx="383.3" cy="1448.8" r="5.3"/></g>
<g class="node" id="n72-0"><circle cx="10" cy="1469.1" r="5.3"/></g>
<g class="node" id="n72-1"><circle cx="43.3" cy="1469.1" r="5.3"/></g>
<g class="node" id="n72-2"><circle cx="76.7" cy="1469.1" r="5.3"/></g>
<g class="node" id="n72-3"><circle cx="110" cy="1469.1" r="5.3"/></g>
<g class="node" id="n72-4"><circle cx="143.3" cy="1469.1" r="5.3"/></g>
<g class="node" id="n72-5"><circle cx="176.7" cy="1469.1" r="5.3"/></g>
<g class="node" id="n72-6"><circle cx="243.3" cy="1469.1" r="5.3"/></g>
<g class="node" id="n72-7"><circle cx="276.7" cy="1469.1" r="5.3"/></g>
<g class="node" id="n72-8"><circle cx="310" cy="1469.1" r="5.3"/></g>
<g class="node" id="n72-9"><circle cx="343.3" cy="1469.1" r="5.3"/></g>
<g class="node" id="n72-10"><circle cx="383.3" cy="1469.1" r="5.3"/></g>
<g class="node" id="n73-0"><circle cx="10" cy="1489.3" r="5.3"/></g>
<g class="node" id="n73-1"><circle cx="43.3" cy="1489.3" r="5.3"/></g>
<g class="node" id="n73-2"><circle cx="110" cy="1489.3" r="5.3"/></g>
<g class="node" id="n73-3"><circle cx="143.3" cy="1489.3" r="5.3"/></g>
<g class="node" id="n73-4"><circle cx="276.7" cy="1489.3" r="5.3"/></g>
<g class="node" id="n73-5"><circle cx="343.3" cy="1489.3" r="5.3"/></g>
<g class="node" id="n73-6"><circle cx="383.3" cy="1489.3" r="5.3"/></g>
<g class="node" id="n73-7"><circle cx="416.7" cy="1489.3" r="5.3"/></g>
<g class="node" id="n74-0"><circle cx="10" cy="1509.6" r="5.3"/></g>
<g class="node" id="n74-1"><circle cx="43.3" cy="1509.6" r="5.3"/></g>
<g class="node" id="n74-2"><circle cx="110" cy="1509.6" r="5.3"/></g>
<g class="node" id="n74-3"><circle cx="143.3" cy="1509.6" r="5.3"/></g>
<g class="node" id="n74-4"><circle cx="276.7" cy="1509.6" r="5.3"/></g>
<g class="node" id="n74-5"><circle cx="343.3" cy="1509.6" r="5.3"/></g>
<g class="node" id="n74-6"><circle cx="383.3" cy="1509.6" r="5.3"/></g>
<g class="node" id="n74-7"><circle cx="416.7" cy="1509.6" r="5.3"/></g>
<g class="node" id="n75-0"><circle cx="110" cy="1529.9" r="5.3"/></g>
<g class="node" id="n75-1"><circle cx="143.3" cy="1529.9" r="5.3"/></g>
<g class="node" id="n75-2"><circle cx="243.3" cy="1529.9" r="5.3"/></g>
<g class="node" id="n75-3"><circle cx="276.7" cy="1529.9" r="5.3"/></g>
<g class="node" id="n75-4"><circle cx="343.3" cy="1529.9" r="5.3"/></g>
<g class="node" id="n75-5"><circle cx="376.7" cy="1529.9" r="5.3"/></g>
<g class="node" id="n75-6"><circle cx="422" cy="1529.9" r="5.3"/></g>
<g class="node" id="n76-0"><circle cx="110" cy="1550.1" r="5.3"/></g>
<g class="node" id="n76-1"><circle cx="143.3" cy="1550.1" r="5.3"/></g>
<g class="node" id="n76-2"><circle cx="243.3" cy="1550.1" r="5.3"/></g>
<g class="node" id="n76-3"><circle cx="276.7" cy="1550.1" r="5.3"/></g>
<g class="node" id="n76-4"><circle cx="343.3" cy="1550.1" r="5.3"/></g>
<g class="node" id="n76-5"><circle cx="393" cy="1550.1" r="5.3"/></g>
<g class="node" id="n76-6"><circle cx="433.7" cy="1550.1" r="5.3"/></g>
<g class="node" id="n77-0"><circle cx="110" cy="1570.4" r="5.3"/></g>
<g class="node" id="n77-1"><circle cx="143.3" cy="1570.4" r="5.3"/></g>
<g class="node" id="n77-2"><circle cx="210" cy="1570.4" r="5.3"/></g>
<g class="node" id="n77-3"><circle cx="243.3" cy="1570.4" r="5.3"/></g>
<g class="node" id="n77-4"><circle cx="310" cy="1570.4" r="5.3"/></g>
<g class="node" id="n77-5"><circle cx="343.3" cy="1570.4" r="5.3"/></g>
<g class="node" id="n77-6"><circle cx="376.7" cy="1570.4" r="5.3"/></g>
<g class="node" id="n77-7"><circle cx="410" cy="1570.4" r="5.3"/></g>
<g class="node" id="n77-8"><circle cx="443.3" cy="1570.4" r="5.3"/></g>
<g class="node" id="n78-0"><circle cx="110" cy="1590.7" r="5.3"/></g>
<g class="node" id="n78-1"><circle cx="143.3" cy="1590.7" r="5.3"/></g>
<g class="node" id="n78-2"><circle cx="210" cy="1590.7" r="5.3"/></g>
<g class="node" id="n78-3"><circle cx="243.3" cy="1590.7" r="5.3"/></g>
<g class="node" id="n78-4"><circle cx="310" cy="1590.7" r="5.3"/></g>
<g class="node" id="n78-5"><circle cx="343.3" cy="1590.7" r="5.3"/></g>
<g class="node" id="n78-6"><circle cx="376.7" cy="1590.7" r="5.3"/></g>
<g class="node" id="n78-7"><circle cx="410" cy="1590.7" r="5.3"/></g>
<g class="node" id="n78-8"><circle cx="443.3" cy="1590.7" r="5.3"/></g>
<g class="node" id="n79-0"><circle cx="110" cy="1610.9" r="5.3"/></g>
<g class="node" id="n79-1"><circle cx="143.3" cy="1610.9" r="5.3"/></g>
<g class="node" id="n79-2"><circle cx="176.7" cy="1610.9" r="5.3"/></g>
<g class="node" id="n79-3"><circle cx="210" cy="1610.9" r="5.3"/></g>
<g class="node" id="n79-4"><circle cx="243.3" cy="1610.9" r="5.3"/></g>
<g class="node" id="n79-5"><circle cx="276.7" cy="1610.9" r="5.3"/></g>
<g class="node" id="n79-6"><circle cx="310" cy="1610.9" r="5.3"/></g>
<g class="node" id="n79-7"><circle cx="343.3" cy="1610.9" r="5.3"/></g>
<g class="node" id="n79-8"><circle cx="376.7" cy="1610.9" r="5.3"/></g>
<g class="node" id="n79-9"><circle cx="410" cy="1610.9" r="5.3"/></g>
<g class="node" id="n79-10"><circle cx="443.3" cy="1610.9" r="5.3"/></g>
<g class="node" id="n79-11"><circle cx="476.7" cy="1610.9" r="5.3"/></g>
<g class="node" id="n80-0"><circle cx="110" cy="1631.2" r="5.3"/></g>
<g class="node" id="n80-1"><circle cx="143.3" cy="1631.2" r="5.3"/></g>
<g class="node" id="n80-2"><circle cx="176.7" cy="1631.2" r="5.3"/></g>
<g class="node" id="n80-3"><circle cx="210" cy="1631.2" r="5.3"/></g>
<g class="node" id="n80-4"><circle cx="243.3" cy="1631.2" r="5.3"/></g>
<g class="node" id="n80-5"><circle cx="276.7" cy="1631.2" r="5.3"/></g>
<g class="node" id="n80-6"><circle cx="310" cy="1631.2" r="5.3"/></g>
<g class="node" id="n80-7"><circle cx="343.3" cy="1631.2" r="5.3"/></g>
<g class="node" id="n80-8"><circle cx="376.7" cy="1631.2" r="5.3"/></g>
<g class="node" id="n80-9"><circle cx="410" cy="1631.2" r="5.3"/></g>
<g class="node" id="n80-10"><circle cx="443.3" cy="1631.2" r="5.3"/></g>
<g class="node" id="n80-11"><circle cx="476.7" cy="1631.2" r="5.3"/></g>
<g class="node" id="n81-0"><circle cx="110" cy="1651.5" r="5.3"/></g>
<g class="node" id="n81-1"><circle cx="143.3" cy="1651.5" r="5.3"/></g>
<g class="node" id="n81-2"><circle cx="176.7" cy="1651.5" r="5.3"/></g>
<g class="node" id="n81-3"><circle cx="210" cy="1651.5" r="5.3"/></g>
<g class="node" id="n81-4"><circle cx="243.3" cy="1651.5" r="5.3"/></g>
<g class="node" id="n81-5"><circle cx="276.7" cy="1651.5" r="5.3"/></g>
<g class="node" id="n81-6"><circle cx="318" cy="1651.5" r="5.3"/></g>
<g class="node" id="n81-7"><circle cx="362" cy="1651.5" r="5.3"/></g>
<g class="node" id="n81-8"><circle cx="410" cy="1651.5" r="5.3"/></g>
<g class="node" id="n81-9"><circle cx="443.3" cy="1651.5" r="5.3"/></g>
<g class="node" id="n81-10"><circle cx="476.7" cy="1651.5" r="5.3"/></g>
<g class="node" id="n82-0"><circle cx="110" cy="1671.7" r="5.3"/></g>
<g class="node" id="n82-1"><circle cx="143.3" cy="1671.7" r="5.3"/></g>
<g class="node" id="n82-2"><circle cx="176.7" cy="1671.7" r="5.3"/></g>
<g class="node" id="n82-3"><circle cx="210" cy="1671.7" r="5.3"/></g>
<g class="node" id="n82-4"><circle cx="243.3" cy="1671.7" r="5.3"/></g>
<g class="node" id="n82-5"><circle cx="276.7" cy="1671.7" r="5.3"/></g>
<g class="node" id="n82-6"><circle cx="325.3" cy="1671.7" r="5.3"/></g>
<g class="node" id="n82-7"><circle cx="366.7" cy="1671.7" r="5.3"/></g>
<g class="node" id="n82-8"><circle cx="410" cy="1671.7" r="5.3"/></g>
<g class="node" id="n82-9"><circle cx="443.3" cy="1671.7" r="5.3"/></g>
<g class="node" id="n82-10"><circle cx="476.7" cy="1671.7" r="5.3"/></g>
<g class="node" id="n83-0"><circle cx="176.7" cy="1692" r="5.3"/></g>
<g class="node" id="n83-1"><circle cx="210" cy="1692" r="5.3"/></g>
<g class="node" id="n83-2"><circle cx="243.3" cy="1692" r="5.3"/></g>
<g class="node" id="n83-3"><circle cx="276.7" cy="1692" r="5.3"/></g>
<g class="node" id="n83-4"><circle cx="329.7" cy="1692" r="5.3"/></g>
<g class="node" id="n83-5"><circle cx="366.7" cy="1692" r="5.3"/></g>
<g class="node" id="n83-6"><circle cx="400.7" cy="1692" r="5.3"/></g>
<g class="node" id="n84-0"><circle cx="176.7" cy="1712.3" r="5.3"/></g>
<g class="node" id="n84-1"><circle cx="210" cy="1712.3" r="5.3"/></g>
<g class="node" id="n84-2"><circle cx="243.3" cy="1712.3" r="5.3"/></g>
<g class="node" id="n84-3"><circle cx="276.7" cy="1712.3" r="5.3"/></g>
<g class="node" id="n84-4"><circle cx="333.3" cy="1712.3" r="5.3"/></g>
<g class="node" id="n84-5"><circle cx="366.7" cy="1712.3" r="5.3"/></g>
<g class="node" id="n84-6"><circle cx="400.7" cy="1712.3" r="5.3"/></g>
<g class="node" id="n85-0"><circle cx="204.7" cy="1732.5" r="5.3"/></g>
<g class="node" id="n85-1"><circle cx="238" cy="1732.5" r="5.3"/></g>
<g class="node" id="n85-2"><circle cx="271.3" cy="1732.5" r="5.3"/></g>
<g class="node" id="n85-3"><circle cx="304.7" cy="1732.5" r="5.3"/></g>
<g class="node" id="n85-4"><circle cx="338" cy="1732.5" r="5.3"/></g>
<g class="node" id="n85-5"><circle cx="371.3" cy="1732.5" r="5.3"/></g>
<g class="node" id="n86-0"><circle cx="204.7" cy="1752.8" r="5.3"/></g>
<g class="node" id="n86-1"><circle cx="238" cy="1752.8" r="5.3"/></g>
<g class="node" id="n86-2"><circle cx="271.3" cy="1752.8" r="5.3"/></g>
<g class="node" id="n86-3"><circle cx="304.7" cy="1752.8" r="5.3"/></g>
<g class="node" id="n86-4"><circle cx="338" cy="1752.8" r="5.3"/></g>
<g class="node" id="n86-5"><circle cx="371.3" cy="1752.8" r="5.3"/></g>
<g class="node" id="n87-0"><circle cx="204.7" cy="1773.1" r="5.3"/></g>
<g class="node" id="n87-1"><circle cx="238" cy="1773.1" r="5.3"/></g>
<g class="node" id="n87-2"><circle cx="304.7" cy="1773.1" r="5.3"/></g>
<g class="node" id="n87-3"><circle cx="354.7" cy="1773.1" r="5.3"/></g>
<g class="node" id="n87-4"><circle cx="387.3" cy="1773.1" r="5.3"/></g>
<g class="node" id="n88-0"><circle cx="204.7" cy="1793.3" r="5.3"/></g>
<g class="node" id="n88-1"><circle cx="238" cy="1793.3" r="5.3"/></g>
<g class="node" id="n88-2"><circle cx="304.7" cy="1793.3" r="5.3"/></g>
<g class="node" id="n88-3"><circle cx="354.7" cy="1793.3" r="5.3"/></g>
<g class="node" id="n88-4"><circle cx="387.3" cy="1793.3" r="5.3"/></g>
<g class="node" id="n89-0"><circle cx="204.7" cy="1813.6" r="5.3"/></g>
<g class="node" id="n89-1"><circle cx="238" cy="1813.6" r="5.3"/></g>
<g class="node" id="n89-2"><circle cx="271.3" cy="1813.6" r="5.3"/></g>
<g class="node" id="n90-0"><circle cx="204.7" cy="1833.9" r="5.3"/></g>
<g class="node" id="n90-1"><circle cx="238" cy="1833.9" r="5.3"/></g>
<g class="node" id="n90-2"><circle cx="271.3" cy="1833.9" r="5.3"/></g>
<g class="node" id="n91-0"><circle cx="271.3" cy="1854.1" r="5.3"/></g>
<g class="node" id="n92-0"><circle cx="271.3" cy="1874.4" r="5.3"/></g>
</svg>
